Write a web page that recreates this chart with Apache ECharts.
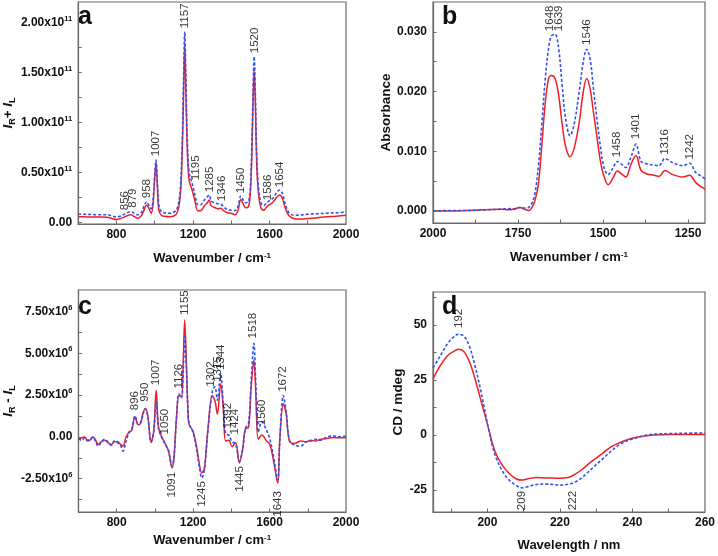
<!DOCTYPE html>
<html><head><meta charset="utf-8">
<script src="https://cdn.jsdelivr.net/npm/echarts@6/dist/echarts.min.js"></script>
<style>html,body{margin:0;padding:0;background:#fff}#c{width:718px;height:556px}</style>
</head><body><div id="c"></div>
<script>
const FONT = '"Liberation Sans", Arial, Helvetica, sans-serif';
const RED = '#f01e26';
const BLUE = '#3152ec';

// ---------- Panel a : IR + IL (units of 1e11) ----------
const scaleA = 1e11;
const waveA = [600,650,700,750,780,800,820,840,856,870,879,895,910,930,945,958,970,982,992,1000,1007,1014,1022,1035,1050,1080,1110,1125,1135,1143,1150,1157,1163,1170,1180,1195,1210,1225,1240,1260,1275,1285,1295,1310,1330,1346,1360,1380,1400,1420,1435,1450,1462,1475,1490,1500,1508,1514,1520,1526,1533,1542,1555,1570,1586,1600,1620,1640,1654,1668,1680,1695,1710,1730,1760,1800,1850,1900,1950,2000];
const redA = [0.06,0.058,0.057,0.055,0.04,0.033,0.04,0.055,0.07,0.08,0.078,0.06,0.043,0.07,0.13,0.177,0.14,0.093,0.2,0.45,0.60,0.35,0.12,0.075,0.065,0.06,0.08,0.15,0.30,0.65,1.2,1.79,1.3,0.75,0.42,0.33,0.22,0.12,0.12,0.17,0.2,0.227,0.17,0.155,0.14,0.145,0.12,0.10,0.095,0.08,0.12,0.233,0.19,0.15,0.16,0.3,0.7,1.2,1.543,1.2,0.6,0.3,0.15,0.125,0.16,0.18,0.21,0.26,0.277,0.24,0.16,0.09,0.055,0.04,0.037,0.042,0.05,0.06,0.065,0.075];
const blueA = [0.085,0.083,0.08,0.08,0.065,0.058,0.065,0.085,0.1,0.11,0.11,0.09,0.08,0.1,0.17,0.21,0.17,0.14,0.25,0.48,0.627,0.4,0.17,0.11,0.1,0.095,0.12,0.2,0.37,0.75,1.35,1.91,1.45,0.85,0.5,0.4,0.28,0.18,0.18,0.23,0.26,0.277,0.22,0.2,0.19,0.185,0.16,0.13,0.125,0.12,0.16,0.267,0.23,0.2,0.21,0.35,0.8,1.3,1.66,1.3,0.7,0.36,0.2,0.17,0.2,0.22,0.25,0.31,0.327,0.29,0.2,0.12,0.085,0.075,0.077,0.085,0.09,0.095,0.1,0.105];
const peakTextA = ['856','879','958','1007','1157','1195','1285','1346','1450','1520','1586','1654'];
const peakXA = [845,888,957,1007,1157,1215,1287,1350,1452,1522,1590,1655];
const peakYA = [0.10,0.125,0.22,0.64,1.92,0.40,0.28,0.19,0.27,1.67,0.20,0.33];
const xLabelsA = [800,1200,1600,2000];
const xTicksA = [800,1000,1200,1400,1600,1800];
const yLabelsA = [0,0.5,1.0,1.5,2.0];
const yTicksA = [0,0.25,0.5,0.75,1.0,1.25,1.5,1.75,2.0];

// ---------- Panel b : FTIR absorbance ----------
const waveB = [2000,1950,1900,1850,1800,1775,1760,1745,1730,1719,1710,1700,1690,1680,1670,1660,1652,1641,1631,1620,1610,1597,1585,1570,1558,1548,1538,1528,1518,1508,1498,1485,1470,1458,1445,1433,1418,1403,1388,1370,1350,1335,1318,1295,1265,1245,1228,1210,1200];
const redB = [0.0000,0.0000,0.0001,0.0002,0.0003,0.0002,0.0004,0.0006,0.0003,0.0001,0.0005,0.0018,0.0045,0.011,0.018,0.0222,0.0227,0.0222,0.0196,0.0145,0.0108,0.0091,0.0105,0.0148,0.0200,0.0222,0.0205,0.0165,0.0125,0.0085,0.006,0.0044,0.0056,0.0067,0.0062,0.0057,0.0078,0.0093,0.0068,0.0062,0.006,0.0058,0.0068,0.0061,0.0057,0.006,0.0048,0.0040,0.0037];
const blueB = [0.0000,0.0001,0.0001,0.0002,0.0003,0.0004,0.0003,0.0006,0.0005,0.0006,0.0012,0.003,0.0075,0.0145,0.022,0.0273,0.0293,0.0296,0.0275,0.021,0.0155,0.0126,0.0145,0.0200,0.0250,0.0271,0.0255,0.0205,0.0155,0.011,0.0075,0.0061,0.0073,0.0083,0.0078,0.0073,0.0090,0.0112,0.0083,0.0079,0.0077,0.0076,0.0088,0.0081,0.0076,0.008,0.0065,0.0058,0.0054];
const peakTextB = ['1648','1639','1546','1458','1401','1316','1242'];
const peakXB = [1656,1631,1548,1458,1403,1318,1244];
const peakYB = [0.0297,0.0297,0.0274,0.0086,0.0116,0.0090,0.0082];
const xLabelsB = [2000,1750,1500,1250];
const xTicksB = [1875,1750,1625,1500,1375,1250];
const yLabelsB = [0,0.01,0.02,0.03];
const yTicksB = [0,0.005,0.01,0.015,0.02,0.025,0.03];

// ---------- Panel c : IR - IL (units of 1e6) ----------
const scaleC = 1e6;
const waveC = [600,617,634,647,660,677,690,703,720,737,754,771,788,805,820,833,848,865,879,896,913,925,940,950,963,980,994,1007,1019,1036,1054,1071,1090,1100,1113,1126,1139,1148,1156,1165,1175,1182,1199,1216,1233,1245,1259,1276,1300,1314,1327,1344,1358,1370,1387,1404,1422,1442,1459,1473,1490,1504,1518,1528,1541,1560,1584,1601,1618,1643,1653,1672,1687,1704,1730,1764,1790,1815,1840,1867,1900,1935,1965,2000];
const redC = [-0.14,-0.05,0.0,-0.25,-0.2,0.0,-0.2,-0.45,-0.3,-0.2,-0.35,-0.45,-0.3,-0.28,-0.45,-0.55,-0.04,0.3,0.4,1.2,0.73,0.8,1.5,1.68,1.27,-0.34,0.36,2.79,0.57,0.0,-0.4,-0.85,-1.86,-1.25,1.17,2.48,2.38,4.4,7.0,4.4,1.0,0.67,0.36,-0.44,-1.66,-2.16,-1.86,0.26,2.48,2.18,1.37,3.19,1.68,-0.24,-0.2,-0.59,-0.34,-1.56,-0.75,0.46,0.57,3.0,4.6,2.6,-0.14,0.12,-0.24,-0.44,-1.25,-2.77,-0.24,1.98,1.37,-0.24,-0.4,-0.24,-0.3,-0.2,-0.25,-0.14,-0.1,-0.04,-0.05,-0.04];
const blueC = [-0.1,-0.2,-0.05,-0.2,-0.15,0.0,-0.3,-0.55,-0.3,-0.15,-0.3,-0.5,-0.25,-0.35,-0.5,-0.85,-0.3,0.25,0.45,1.25,0.75,0.85,1.45,1.7,1.2,-0.3,0.3,2.08,0.5,-0.05,-0.45,-0.8,-1.75,-1.2,1.1,2.6,2.35,3.9,6.0,4.0,1.2,0.7,0.3,-0.6,-1.8,-2.46,-2.0,0.2,2.7,3.0,2.2,3.8,1.9,0.2,0.1,-0.3,-0.4,-1.45,-0.8,0.5,0.8,3.4,5.6,3.2,0.3,0.9,0.4,-0.1,-1.0,-2.57,-0.4,2.48,1.5,-0.2,-0.5,-0.55,-0.3,-0.25,-0.15,-0.2,0.0,0.05,0.0,0.05];
const peakTextCUp = ['896','950','1007','1050','1126','1155','1302','1315','1344','1392','1424','1518','1560','1672'];
const peakXCUp = [896,948,1005,1054,1125,1155,1294,1328,1344,1383,1420,1515,1562,1672];
const peakYCUp = [1.45,1.95,2.95,0.0,2.75,7.15,2.85,3.15,3.85,0.35,0.0,5.75,0.55,2.55];
const peakTextCDown = ['1091','1245','1445','1643'];
const peakXCDown = [1088,1247,1442,1643];
const peakYCDown = [-1.95,-2.5,-1.6,-3.1];
const yLabelsC = [-2.5,0,2.5,5.0,7.5];
const yTicksC = [-3.75,-2.5,-1.25,0,1.25,2.5,3.75,5.0,6.25,7.5];

// ---------- Panel d : CD spectrum ----------
const waveD = [185,187,189,190.5,192,193.5,195,196.5,198,199,200.3,202,204,206,208,209.5,211,213.5,216,218,220,222.5,224,226,228,230,232,234,236,238,240,242,244,246,250,255,260];
const redD = [25.5,31.5,36,37.8,39,38,33.5,26,17,11,3,-7,-13.5,-17.5,-20,-20.5,-20,-19.3,-19.5,-19.6,-19.7,-19.2,-18,-15.8,-13,-10.5,-8,-5.5,-3.8,-2.5,-1.5,-0.8,-0.3,0,0.2,0.2,0.2];
const blueD = [30.5,36,41.5,44.3,45.8,45,40.5,32,21.5,13.5,3,-8.5,-16,-20.5,-23,-24,-23.5,-22.5,-22.3,-22.5,-22.8,-22.3,-21.5,-19.5,-16.5,-13.5,-10.5,-7.5,-4.8,-3,-1.8,-0.8,0,0.4,0.6,0.8,0.9];
const peakTextDUp = ['192'];
const peakXDUp = [192];
const peakYDUp = [47.5];
const peakTextDDown = ['209','222'];
const peakXDDown = [209.5,223.5];
const peakYDDown = [-24.3,-24.3];
const xLabelsD = [200,220,240,260];
const xTicksD = [190,200,210,220,230,240,250];
const yLabelsD = [-25,0,25,50];
const yTicksD = [-25,-12.5,0,12.5,25,37.5,50,62.5];

// ---------- helpers ----------
const tickLabelStyle = {fontFamily: FONT, fontSize: 12, fontWeight: 'bold', color: '#111'};
const supRich = {
  m: {fontFamily: FONT, fontSize: 12, fontWeight: 'bold', color: '#111', lineHeight: 16},
  s: {fontFamily: FONT, fontSize: 7.5, fontWeight: 'bold', color: '#111', lineHeight: 8, verticalAlign: 'top'}
};
const nameRich = {
  i: {fontFamily: FONT, fontSize: 13.5, fontWeight: 'bold', fontStyle: 'italic', color: '#111', lineHeight: 18},
  n: {fontFamily: FONT, fontSize: 13.5, fontWeight: 'bold', color: '#111', lineHeight: 18},
  b: {fontFamily: FONT, fontSize: 9, fontWeight: 'bold', color: '#111', lineHeight: 9, verticalAlign: 'bottom'},
  s: {fontFamily: FONT, fontSize: 8, fontWeight: 'bold', color: '#111', lineHeight: 8, verticalAlign: 'top'}
};
const AXC = '#6a6a6a';

function xAxis(gi, min, max, labels, ticks, name, gap, inverse) {
  return {
    type: 'value', gridIndex: gi, min: min, max: max, inverse: !!inverse,
    axisLine: {show: true, onZero: false, lineStyle: {color: AXC, width: 1.2}},
    axisTick: {show: true, inside: true, length: 3.5, customValues: ticks, lineStyle: {color: AXC, width: 1}},
    axisLabel: Object.assign({show: true, margin: 5, customValues: labels, formatter: v => String(v)}, tickLabelStyle),
    splitLine: {show: false},
    name: name, nameLocation: 'middle', nameGap: gap,
    nameTextStyle: {fontFamily: FONT, fontSize: 13, fontWeight: 'bold', color: '#111', rich: nameRich}
  };
}
function yAxis(gi, min, max, labels, ticks, formatter, name, gap) {
  return {
    type: 'value', gridIndex: gi, min: min, max: max,
    axisLine: {show: true, onZero: false, lineStyle: {color: AXC, width: 1.2}},
    axisTick: {show: true, inside: true, length: 3.5, customValues: ticks, lineStyle: {color: AXC, width: 1}},
    axisLabel: Object.assign({show: true, margin: 6, customValues: labels, formatter: formatter, rich: supRich}, tickLabelStyle),
    splitLine: {show: false},
    name: name, nameLocation: 'middle', nameGap: gap, nameRotate: 90,
    nameTextStyle: {fontFamily: FONT, fontSize: 13.5, fontWeight: 'bold', color: '#111', rich: nameRich}
  };
}
function line(gi, xs, ys, scale, color, dashed) {
  return {
    type: 'line', xAxisIndex: gi, yAxisIndex: gi, showSymbol: false, smooth: 0.35, silent: true,
    data: xs.map((x, i) => [x, ys[i] * scale]),
    lineStyle: {color: color, width: dashed ? 1.6 : 1.5, type: dashed ? [3, 2] : 'solid'},
    z: dashed ? 3 : 2
  };
}
function annot(gi, texts, xs, ys, scale, below) {
  return {
    type: 'scatter', xAxisIndex: gi, yAxisIndex: gi, symbolSize: 1, silent: true, z: 6,
    itemStyle: {color: 'rgba(0,0,0,0)'},
    data: xs.map((x, i) => ({value: [x, ys[i] * scale], name: texts[i]})),
    label: {show: true, formatter: '{b}', position: below ? 'bottom' : 'top', distance: 2, rotate: 90,
      align: below ? 'right' : 'left', verticalAlign: 'middle',
      fontFamily: FONT, fontSize: 11.5, color: '#000'}
  };
}
const fmtA = v => Math.abs(v) < 1e-9 ? '{m|0.00}' : '{m|' + (v / scaleA).toFixed(2) + 'x10}{s|11}';
const fmtB = v => '{m|' + v.toFixed(3) + '}';
const fmtC = v => Math.abs(v) < 1e-6 ? '{m|0.00}' : '{m|' + (v / scaleC).toFixed(2) + 'x10}{s|6}';
const fmtD = v => '{m|' + Math.round(v) + '}';

const chart = echarts.init(document.getElementById('c'), null, {renderer: 'canvas'});
chart.setOption({
  animation: false,
  backgroundColor: '#fff',
  title: [
    {text: 'a', left: 78, top: 5},
    {text: 'b', left: 442, top: 5},
    {text: 'c', left: 78, top: 295},
    {text: 'd', left: 442, top: 295}
  ].map(t => Object.assign(t, {padding: 0, textStyle: {fontFamily: FONT, fontSize: 25, fontWeight: 'bold', color: '#111'}})),
  grid: [
    {left: 73, top: 2, width: 273, height: 222},
    {left: 433, top: 2, width: 272, height: 221},
    {left: 73, top: 290, width: 273, height: 222},
    {left: 433, top: 292, width: 273, height: 220}
  ].map(g => Object.assign(g, {show: true, borderColor: AXC, borderWidth: 1.2, backgroundColor: 'transparent', containLabel: false})),
  xAxis: [
    xAxis(0, 600, 2000, xLabelsA, xTicksA, 'Wavenumber / cm{s|-1}', 28),
    xAxis(1, 1200, 2000, xLabelsB, xTicksB, 'Wavenumber / cm{s|-1}', 28, true),
    xAxis(2, 600, 2000, xLabelsA, xTicksA, 'Wavenumber / cm{s|-1}', 22),
    xAxis(3, 185, 260, xLabelsD, xTicksD, 'Wavelength / nm', 27)
  ],
  yAxis: [
    yAxis(0, -0.013 * scaleA, 2.207 * scaleA, yLabelsA.map(v => v * scaleA), yTicksA.map(v => v * scaleA), fmtA, '{i|I}{b|R}{n|+ }{i|I}{b|L}', 56),
    yAxis(1, -0.002, 0.035, yLabelsB, yTicksB, fmtB, 'Absorbance', 38),
    yAxis(2, -4.5 * scaleC, 8.8 * scaleC, yLabelsC.map(v => v * scaleC), yTicksC.map(v => v * scaleC), fmtC, '{i|I}{b|R}{n| - }{i|I}{b|L}', 56),
    yAxis(3, -35, 65, yLabelsD, yTicksD, fmtD, 'CD / mdeg', 27)
  ],
  series: [
    line(0, waveA, redA, scaleA, RED, false),
    line(0, waveA, blueA, scaleA, BLUE, true),
    annot(0, peakTextA, peakXA, peakYA, scaleA, false),
    line(1, waveB, redB, 1, RED, false),
    line(1, waveB, blueB, 1, BLUE, true),
    annot(1, peakTextB, peakXB, peakYB, 1, false),
    line(2, waveC, redC, scaleC, RED, false),
    line(2, waveC, blueC, scaleC, BLUE, true),
    annot(2, peakTextCUp, peakXCUp, peakYCUp, scaleC, false),
    annot(2, peakTextCDown, peakXCDown, peakYCDown, scaleC, true),
    line(3, waveD, redD, 1, RED, false),
    line(3, waveD, blueD, 1, BLUE, true),
    annot(3, peakTextDUp, peakXDUp, peakYDUp, 1, false),
    annot(3, peakTextDDown, peakXDDown, peakYDDown, 1, true)
  ]
});
</script></body></html>
